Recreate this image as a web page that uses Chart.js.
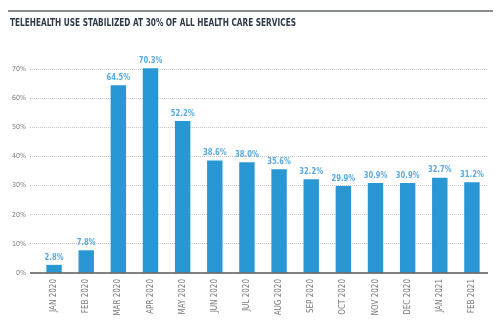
<!DOCTYPE html>
<html>
<head>
<meta charset="utf-8">
<script src="https://cdn.jsdelivr.net/npm/chart.js@4/dist/chart.umd.min.js"></script>
<style>
  html, body { margin: 0; padding: 0; background: #fff; }
  #wrap { width: 500px; height: 328px; }
</style>
</head>
<body>
<div id="wrap"><canvas id="telehealthChart" width="500" height="328"></canvas></div>
<script>
var months = ['JAN 2020', 'FEB 2020', 'MAR 2020', 'APR 2020', 'MAY 2020', 'JUN 2020', 'JUL 2020',
  'AUG 2020', 'SEP 2020', 'OCT 2020', 'NOV 2020', 'DEC 2020', 'JAN 2021', 'FEB 2021'];
var telehealthShare = [2.8, 7.8, 64.5, 70.3, 52.2, 38.6, 38.0, 35.6, 32.2, 29.9, 30.9, 30.9, 32.7, 31.2];
var yTicks = [0, 10, 20, 30, 40, 50, 60, 70];
var chartTitle = 'TELEHEALTH USE STABILIZED AT 30% OF ALL HEALTH CARE SERVICES';

var narrow = "'DejaVu Sans Condensed', 'Liberation Sans Narrow', 'Liberation Sans', sans-serif";

// title, rule above it, baseline and value labels
var decorations = {
  id: 'decorations',
  beforeDraw: function(chart) {
    var c = chart.ctx;
    c.save();
    c.fillStyle = '#fff';
    c.fillRect(0, 0, chart.width, chart.height);
    c.strokeStyle = '#8a8d90';
    c.lineWidth = 2;
    c.beginPath();
    c.moveTo(8, 11);
    c.lineTo(493, 11);
    c.stroke();
    c.font = 'bold 11px ' + narrow;
    c.fillStyle = '#2e3a48';
    c.textBaseline = 'middle';
    var w = c.measureText(chartTitle).width;
    c.translate(10, 23);
    c.scale(286 / w, 1);
    c.fillText(chartTitle, 0, 0);
    c.restore();
  },
  afterDatasetsDraw: function(chart) {
    var c = chart.ctx;
    var area = chart.chartArea;
    var y0 = chart.scales.y.getPixelForValue(0);
    c.save();
    c.strokeStyle = '#555';
    c.lineWidth = 1.5;
    c.beginPath();
    c.moveTo(30, y0);
    c.lineTo(area.right, y0);
    c.stroke();

    c.font = 'bold 9.5px ' + narrow;
    c.fillStyle = '#57abe3';
    c.textAlign = 'center';
    c.textBaseline = 'bottom';
    chart.getDatasetMeta(0).data.forEach(function(bar, i) {
      c.save();
      c.translate(bar.x, bar.y - 3);
      c.scale(0.8, 1);
      c.fillText(telehealthShare[i].toFixed(1) + '%', 0, 0);
      c.restore();
    });
    c.restore();
  }
};

new Chart(document.getElementById('telehealthChart').getContext('2d'), {
  type: 'bar',
  data: {
    labels: months,
    datasets: [{
      data: telehealthShare,
      backgroundColor: '#2a97d5',
      borderWidth: 0,
      categoryPercentage: 1,
      barPercentage: 0.48
    }]
  },
  options: {
    responsive: false,
    animation: false,
    events: [],
    layout: { padding: { top: 40, right: 12, left: 0, bottom: 0 } },
    plugins: {
      legend: { display: false },
      tooltip: { enabled: false },
      title: { display: false }
    },
    scales: {
      y: {
        min: 0,
        max: 80,
        afterFit: function(scale) { scale.width = 38; },
        afterBuildTicks: function(scale) {
          scale.ticks = yTicks.map(function(v) { return { value: v }; });
        },
        border: { display: false, dash: [1, 1] },
        grid: {
          color: function(ctx) { return ctx.tick && ctx.tick.value === 0 ? 'rgba(0,0,0,0)' : '#c8c8c8'; },
          lineWidth: 1,
          drawTicks: true,
          tickLength: 8,
          tickBorderDash: [1, 1]
        },
        ticks: {
          padding: 4,
          color: '#7a7a7a',
          font: { family: narrow, size: 7 },
          callback: function(v) { return v + '%'; }
        }
      },
      x: {
        afterFit: function(scale) { scale.height = 55; },
        border: { display: false },
        grid: { display: false, drawTicks: false },
        ticks: {
          padding: 6,
          color: '#7a7a7a',
          minRotation: 90,
          maxRotation: 90,
          autoSkip: false,
          font: { family: narrow, size: 8 }
        }
      }
    }
  },
  plugins: [decorations]
});
</script>
</body>
</html>
